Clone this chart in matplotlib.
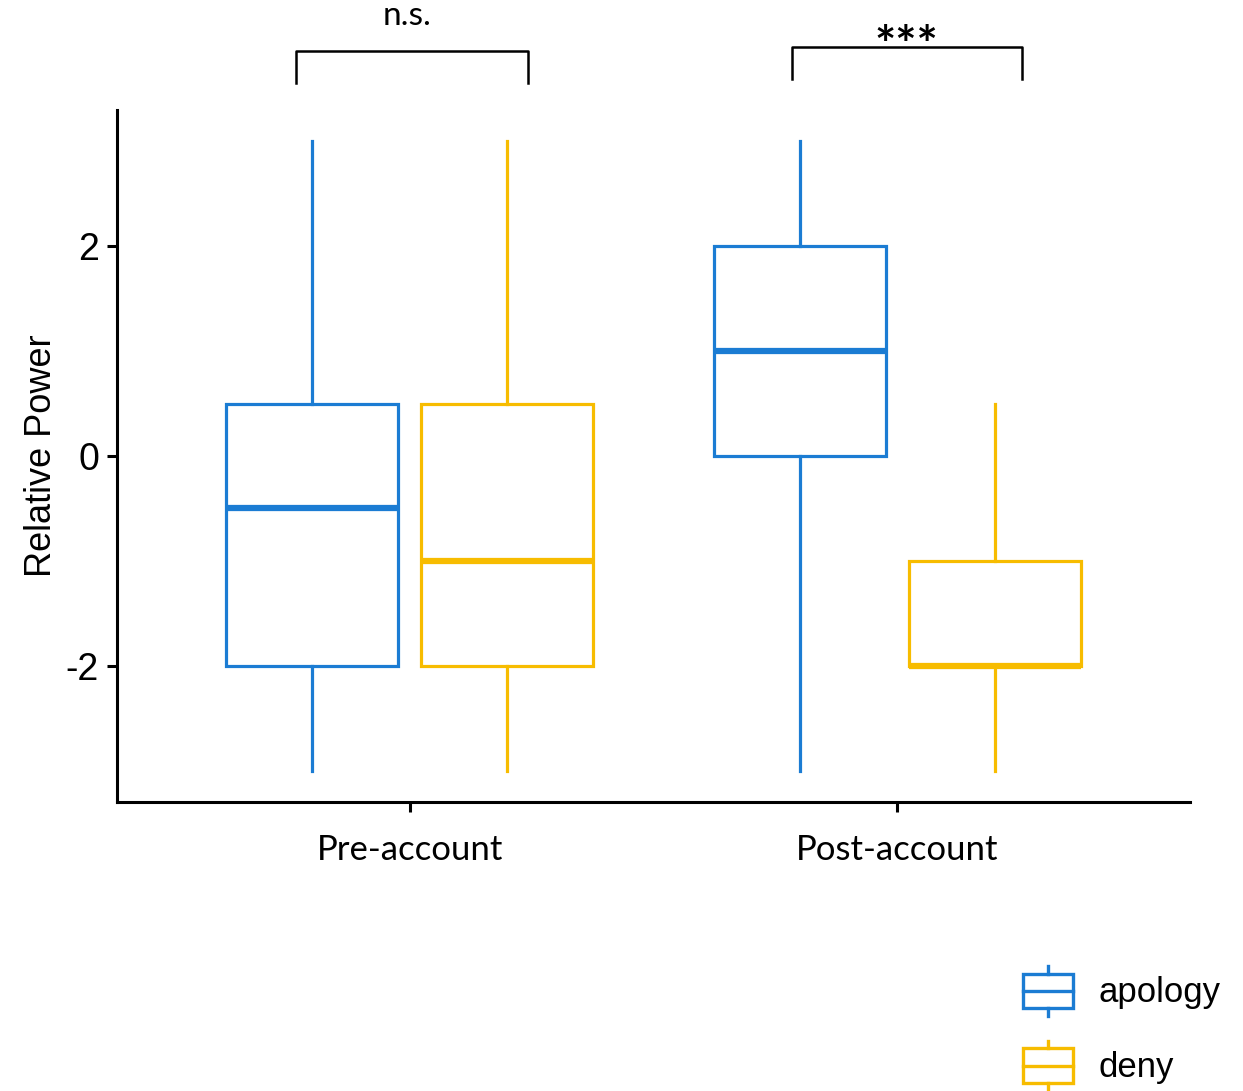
import matplotlib.pyplot as plt
from matplotlib.patches import Patch, Rectangle
from matplotlib.lines import Line2D
from matplotlib.legend_handler import HandlerBase

# Box statistics per phase and account type
phases = ['Pre-account', 'Post-account']
groups = ['apology', 'deny']
colors = {'apology': '#1B7CD3', 'deny': '#F7BC00'}

whislo = {'apology': [-3, -3], 'deny': [-3, -3]}
q1 = {'apology': [-2, 0], 'deny': [-2, -2]}
med = {'apology': [-0.5, 1], 'deny': [-1, -2]}
q3 = {'apology': [0.5, 2], 'deny': [0.5, -1]}
whishi = {'apology': [3, 3], 'deny': [3, 0.5]}

sig_labels = ['n.s.', '***']

dodge = 0.2
box_w = 0.352


class BoxIconHandler(HandlerBase):
    # small boxplot glyph: box, median line and whisker stubs
    def create_artists(self, legend, orig_handle, xdescent, ydescent,
                       width, height, fontsize, trans):
        c = orig_handle.get_edgecolor()
        yc = -ydescent + height / 2
        half = fontsize * 0.5
        stub = fontsize * 0.22
        xm = -xdescent + width / 2
        rect = Rectangle((-xdescent, yc - half), width, 2 * half, facecolor='white',
                         edgecolor=c, lw=2.4, transform=trans)
        mline = Line2D([-xdescent, -xdescent + width], [yc, yc], color=c, lw=2.4, transform=trans)
        top = Line2D([xm, xm], [yc + half, yc + half + stub], color=c, lw=2.4, transform=trans)
        bot = Line2D([xm, xm], [yc - half - stub, yc - half], color=c, lw=2.4, transform=trans)
        return [rect, mline, top, bot]


fig = plt.figure(figsize=(12.43, 10.91), dpi=100)
ax = fig.add_axes([0.0941, 0.2649, 0.8633, 0.6343])

for gi, g in enumerate(groups):
    off = -dodge if gi == 0 else dodge
    stats = []
    for i in range(len(phases)):
        stats.append(dict(whislo=whislo[g][i], q1=q1[g][i], med=med[g][i],
                          q3=q3[g][i], whishi=whishi[g][i], fliers=[]))
    ax.bxp(stats, positions=[i + off for i in range(len(phases))], widths=box_w,
           showfliers=False, showcaps=False, patch_artist=True,
           boxprops=dict(facecolor='white', edgecolor=colors[g], lw=2.3),
           whiskerprops=dict(color=colors[g], lw=2.3),
           medianprops=dict(color=colors[g], lw=4.5, solid_capstyle='butt'))

ax.set_xlim(-0.6, 1.6)
ax.set_ylim(-3.3, 3.3)
ax.set_xticks(range(len(phases)))
ax.set_xticklabels(phases, fontfamily='Lato', fontsize=25)
ax.set_yticks([-2, 0, 2])
ax.set_yticklabels(['-2', '0', '2'], fontfamily='Liberation Sans', fontsize=27)
ax.tick_params(axis='both', length=7, width=2.2, color='black')
ax.tick_params(axis='x', pad=16)
ax.tick_params(axis='y', pad=6)
ax.set_ylabel('Relative Power', fontfamily='Liberation Sans', fontsize=26, labelpad=5)
for s in ['top', 'right']:
    ax.spines[s].set_visible(False)
for s in ['left', 'bottom']:
    ax.spines[s].set_linewidth(2.2)

# Significance brackets above each phase
brackets = [(-0.232, 0.242, 3.56, 3.86), (-0.217, 0.256, 3.60, 3.90)]
for i, (xa, xb, yb, yt) in enumerate(brackets):
    ax.plot([i + xa, i + xa, i + xb, i + xb], [yb, yt, yt, yb], color='black',
            lw=1.8, clip_on=False, solid_joinstyle='round')
ax.text(0 - 0.006, 4.05, sig_labels[0], ha='center', va='bottom',
        fontfamily='Lato', fontsize=24, clip_on=False)
ax.text(1 + 0.018, 3.68, sig_labels[1], ha='center', va='bottom',
        fontfamily='Lato', fontsize=36, fontweight='bold', clip_on=False)

handles = [Patch(edgecolor=colors[g], facecolor='white', label=g) for g in groups]
fig.legend(handles=handles, loc='upper left', bbox_to_anchor=(0.809, 0.126),
           frameon=False, prop=dict(family='Liberation Sans', size=25),
           handler_map={Patch: BoxIconHandler()}, handlelength=1.45,
           handleheight=1.4, handletextpad=0.72, labelspacing=1.0, borderpad=0)

fig.savefig('out.png', dpi=100)
